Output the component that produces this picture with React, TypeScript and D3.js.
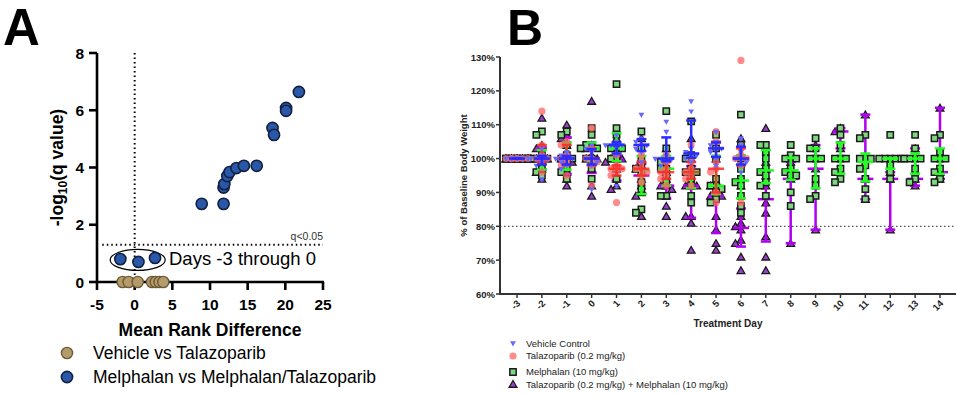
import React from "react";
import * as d3 from "d3";

const W = 957;
const H = 396;
const font = "'Liberation Sans', Arial, sans-serif";

// ---------- panel A data ----------
const vehTalaDiff = [-1.6, -0.8, 0.4, 2.3, 2.8, 3.3, 3.8];
const melDiff = [-1.9, 0.5, 2.7, 8.9, 11.8, 11.8, 11.9, 12.3, 12.6, 13.5, 14.5, 16.2, 18.3, 18.5, 20.1, 20.1, 21.8];
const melNegLogQ = [0.8, 0.7, 0.84, 2.73, 2.73, 3.3, 3.42, 3.7, 3.84, 3.98, 4.06, 4.06, 5.38, 5.14, 6.08, 5.98, 6.64];
const aTicksX = [-5, 0, 5, 10, 15, 20, 25];
const aTicksY = [0, 2, 4, 6, 8];

// ---------- panel B data (% of baseline weight, one list per day) ----------
const days = [-3, -2, -1, 0, 1, 2, 3, 4, 5, 6, 7, 8, 9, 10, 11, 12, 13, 14];
const bTicksY = [60, 70, 80, 90, 100, 110, 120, 130];

const vehicleWeights = [
  [100, 100, 100, 100, 100, 100, 100, 100],
  [103, 101, 100, 100, 100, 99, 98, 94],
  [102, 101, 100, 100, 100, 99, 98, 97],
  [104, 103, 102, 100, 100, 99, 98, 91],
  [107, 105, 104, 104, 104, 103, 101, 92],
  [113, 106, 105, 104, 104, 103, 102, 99],
  [111, 108, 101, 100, 100, 100, 99, 98],
  [117, 114, 103, 102, 101, 101, 100, 99],
  [108, 105, 104, 103, 103, 102, 100, 98],
  [106, 104, 102, 100, 100, 99, 98, 96],
];
const talaWeights = [
  [100, 100, 100, 100, 100, 100, 100],
  [114, 104, 101, 100, 100, 99, 96],
  [105, 104, 101, 100, 99, 98, 95],
  [109, 103, 100, 100, 99, 98, 92],
  [101, 98, 97, 97, 96, 95, 87],
  [101, 99, 97, 97, 96, 95, 93],
  [101, 99, 97, 96, 95, 94, 92],
  [104, 99, 97, 96, 95, 94, 92],
  [108, 105, 99, 97, 96, 90, 87],
  [129, 103, 101, 100, 100, 98, 87],
];
const melWeights = [
  [100, 100, 100, 100, 100, 100, 100, 100, 100, 100],
  [108, 107, 101, 100, 100, 100, 99, 97, 96, 95],
  [108, 107, 104, 101, 100, 100, 99, 97, 96, 94],
  [109, 107, 104, 104, 103, 103, 100, 100, 97, 94],
  [122, 109, 107, 104, 103, 103, 100, 100, 97, 94],
  [108, 103, 100, 98, 97, 96, 93, 91, 85, 84],
  [114, 103, 100, 99, 97, 97, 95, 93, 89, 89],
  [111, 101, 100, 97, 96, 96, 94, 92, 89, 87],
  [107, 103, 100, 94, 92, 92, 91, 90, 88, 87],
  [113, 104, 100, 97, 94, 93, 92, 89, 86, 84],
  [104, 104, 102, 100, 97, 96, 95, 93, 92, 89],
  [104, 101, 100, 100, 97, 96, 95, 95, 90, 86],
  [106, 103, 103, 100, 100, 100, 94, 92, 89, 88],
  [109, 107, 104, 100, 100, 100, 97, 96, 94, 93],
  [107, 106, 100, 100, 100, 98, 97, 94, 91, 88],
  [107, 100, 100, 100, 100, 100, 98, 96, 94],
  [107, 103, 100, 100, 100, 100, 97, 94, 93],
  [107, 106, 102, 100, 100, 100, 97, 96, 94, 93],
];
const comboWeights = [
  [100, 100, 100, 100, 100, 100, 100, 100, 100, 100],
  [112, 104, 103, 100, 100, 100, 100, 97, 96, 94],
  [110, 107, 106, 104, 100, 100, 99, 96, 94, 92],
  [117, 104, 103, 101, 100, 100, 99, 97, 92, 89],
  [106, 103, 100, 100, 100, 99, 97, 94, 92, 91],
  [106, 100, 98, 97, 96, 94, 92, 90, 89, 83],
  [103, 100, 96, 94, 92, 92, 91, 89, 86, 83],
  [106, 100, 97, 93, 92, 92, 83, 83, 81, 73],
  [100, 93, 92, 90, 89, 89, 83, 79, 75, 73],
  [106, 92, 83, 81, 80, 79, 76, 75, 71, 67],
  [109, 99, 95, 92, 89, 87, 84, 77, 71, 67],
  [99, 94, 75],
  [104, 97, 79],
  [109, 108, 103],
  [113, 94, 88],
  [96, 94, 79],
  [103, 94, 92],
  [115, 96, 94],
];

// ---------- scales ----------
const ax = d3.scaleLinear().domain([-5, 25]).range([97, 323]);
const ay = d3.scaleLinear().domain([0, 8]).range([282, 53]);
const bx = d3.scalePoint<number>().domain(days).range([517, 940]);
const by = d3.scaleLinear().domain([60, 130]).range([294, 57]);

// prism style percentile, position (n+1)p
function pq(vals: number[], p: number) {
  const s = [...vals].sort((a, b) => a - b);
  const n = s.length;
  const pos = (n + 1) * p;
  if (pos <= 1) return s[0];
  if (pos >= n) return s[n - 1];
  const lo = Math.floor(pos);
  return s[lo - 1] + (pos - lo) * (s[lo] - s[lo - 1]);
}

// spread overlapping points sideways
function swarm(vals: number[], cx: number, gap: number) {
  const sorted = [...vals].sort((a, b) => b - a);
  const placed: { x: number; y: number }[] = [];
  const offs = [0, -gap, gap, -2 * gap, 2 * gap];
  sorted.forEach((v) => {
    const py = by(v);
    let best = 0;
    let bestC = Infinity;
    for (const o of offs) {
      const c = placed.filter((p) => Math.abs(p.y - py) < gap && Math.abs(p.x - (cx + o)) < gap).length;
      if (c < bestC) {
        bestC = c;
        best = o;
        if (c === 0) break;
      }
    }
    placed.push({ x: cx + best, y: py });
  });
  return placed;
}

const triUp = d3.symbol().type(d3.symbolTriangle).size(26)() as string;
const triDown = d3.symbol().type(d3.symbolTriangle).size(15)() as string;
const sq = d3.symbol().type(d3.symbolSquare).size(40)() as string;

type Group = {
  name: string;
  data: number[][];
  bar: string;
  mark: (x: number, y: number, k: string) => React.ReactElement;
};

const groups: Group[] = [
  {
    name: "Talazoparib (0.2 mg/kg) + Melphalan (10 mg/kg)",
    data: comboWeights,
    bar: "#b000f0",
    mark: (x, y, k) => (
      <path key={k} d={triUp} transform={`translate(${x},${y + 1})`} fill="#9b3fd0" stroke="#1a1a1a" strokeWidth={1.3} />
    ),
  },
  {
    name: "Melphalan (10 mg/kg)",
    data: melWeights,
    bar: "#1cff1c",
    mark: (x, y, k) => (
      <path key={k} d={sq} transform={`translate(${x},${y})`} fill="#7fd87f" stroke="#1a1a1a" strokeWidth={1.5} />
    ),
  },
  {
    name: "Talazoparib (0.2 mg/kg)",
    data: talaWeights,
    bar: "#ff2a2a",
    mark: (x, y, k) => <circle key={k} cx={x} cy={y} r={3.6} fill="#ff6464" opacity={0.75} />,
  },
  {
    name: "Vehicle Control",
    data: vehicleWeights,
    bar: "#2b2bff",
    mark: (x, y, k) => (
      <path key={k} d={triDown} transform={`translate(${x},${y}) rotate(180)`} fill="#6868ff" />
    ),
  },
];

function PanelA() {
  const gx = ax(0);
  const gy = ay(-Math.log10(0.05));
  return (
    <g fontFamily={font}>
      <text x={3} y={45} fontSize={51} fontWeight="bold">A</text>
      {/* reference lines */}
      <line x1={gx} x2={gx} y1={ay(8)} y2={ay(0)} stroke="#000" strokeWidth={2} strokeDasharray="1.5,3" />
      <line x1={ax(-4.3)} x2={ax(25)} y1={gy} y2={gy} stroke="#000" strokeWidth={2} strokeDasharray="1.5,3" />
      <text x={ax(25)} y={gy - 5} fontSize={10.5} textAnchor="end" fill="#333">q&lt;0.05</text>
      {/* axes */}
      <line x1={ax(-5)} x2={ax(-5)} y1={ay(8)} y2={ay(0) + 1} stroke="#000" strokeWidth={2.6} />
      <line x1={ax(-5) - 1} x2={ax(25) + 1} y1={ay(0)} y2={ay(0)} stroke="#000" strokeWidth={2.6} />
      {aTicksY.map((t) => (
        <g key={t}>
          <line x1={ax(-5) - 8} x2={ax(-5)} y1={ay(t)} y2={ay(t)} stroke="#000" strokeWidth={2.6} />
          <text x={ax(-5) - 13} y={ay(t) + 5.5} fontSize={15.5} fontWeight="bold" textAnchor="end">{t}</text>
        </g>
      ))}
      {aTicksX.map((t) => (
        <g key={t}>
          <line x1={ax(t)} x2={ax(t)} y1={ay(0)} y2={ay(0) + 8} stroke="#000" strokeWidth={2.6} />
          <text x={ax(t)} y={310} fontSize={15.5} fontWeight="bold" textAnchor="middle">{t}</text>
        </g>
      ))}
      <text x={(ax(-5) + ax(25)) / 2} y={336} fontSize={17.5} fontWeight="bold" textAnchor="middle">Mean Rank Difference</text>
      <text transform={`translate(63,${(ay(0) + ay(8)) / 2}) rotate(-90)`} fontSize={17.5} fontWeight="bold" textAnchor="middle">
        -log<tspan fontSize={12} dy={4}>10</tspan><tspan dy={-4}>(q value)</tspan>
      </text>
      {/* annotation */}
      <ellipse cx={ax(0.4)} cy={ay(0.77)} rx={27.5} ry={10.5} fill="none" stroke="#000" strokeWidth={1.2} />
      <text x={169} y={265} fontSize={18.5}>Days -3 through 0</text>
      {/* points */}
      {vehTalaDiff.map((d, i) => (
        <circle key={"t" + i} cx={ax(d)} cy={ay(0)} r={5.6} fill="#b39b6b" stroke="#6d5a36" strokeWidth={1.4} />
      ))}
      {melDiff.map((d, i) => (
        <circle key={"m" + i} cx={ax(d)} cy={ay(melNegLogQ[i])} r={5.6} fill="#2a58a8" stroke="#132041" strokeWidth={1.6} />
      ))}
      {/* legend */}
      <circle cx={67} cy={353} r={5.6} fill="#b39b6b" stroke="#6d5a36" strokeWidth={1.4} />
      <text x={93} y={358.5} fontSize={17.5}>Vehicle vs Talazoparib</text>
      <circle cx={67} cy={377} r={5.6} fill="#2a58a8" stroke="#132041" strokeWidth={1.6} />
      <text x={93} y={382.5} fontSize={17.5}>Melphalan vs Melphalan/Talazoparib</text>
    </g>
  );
}

function PanelB() {
  const x0 = 500;
  const x1 = 956;
  return (
    <g fontFamily={font}>
      <text x={507} y={45} fontSize={50} fontWeight="bold">B</text>
      <line x1={x0} x2={x1} y1={by(80)} y2={by(80)} stroke="#555" strokeWidth={1.2} strokeDasharray="1.5,2.5" />
      {/* axes */}
      <line x1={x0} x2={x0} y1={by(130)} y2={by(60) + 1} stroke="#333" strokeWidth={2} />
      <line x1={x0 - 1} x2={x1} y1={by(60)} y2={by(60)} stroke="#333" strokeWidth={2} />
      {bTicksY.map((t) => (
        <g key={t}>
          <line x1={x0 - 4} x2={x0} y1={by(t)} y2={by(t)} stroke="#333" strokeWidth={1.5} />
          <text x={x0 - 5} y={by(t) + 3.5} fontSize={9.5} fontWeight="bold" textAnchor="end" fill="#222">{t}%</text>
        </g>
      ))}
      {days.map((d) => (
        <g key={d}>
          <line x1={bx(d)} x2={bx(d)} y1={by(60)} y2={by(60) + 4} stroke="#333" strokeWidth={1.5} />
          <text transform={`translate(${(bx(d) as number) + 4},${by(60) + 10}) rotate(-45)`} fontSize={9.5} fontWeight="bold" textAnchor="end" fill="#222">{d}</text>
        </g>
      ))}
      <text x={728} y={327} fontSize={10} fontWeight="bold" textAnchor="middle" fill="#222">Treatment Day</text>
      <text transform={`translate(467,${(by(60) + by(130)) / 2}) rotate(-90)`} fontSize={9.5} fontWeight="bold" textAnchor="middle" fill="#222">% of Baseline Body Weight</text>
      {/* data */}
      {groups.map((g, gi) => (
        <g key={gi}>
          {g.data.map((vals, di) => {
            const cx = bx(days[di]) as number;
            const pts = swarm(vals, cx, 5.5);
            const med = d3.median(vals) as number;
            const lo = pq(vals, 0.25);
            const hi = pq(vals, 0.75);
            return (
              <g key={di}>
                {pts.map((p, pi) => g.mark(p.x, p.y, `${di}-${pi}`))}
                <g stroke={g.bar} strokeWidth={2.5} opacity={gi === 2 ? 0.85 : 1}>
                  <line x1={cx} x2={cx} y1={by(lo)} y2={by(hi)} />
                  <line x1={cx - 5} x2={cx + 5} y1={by(lo)} y2={by(lo)} />
                  <line x1={cx - 5} x2={cx + 5} y1={by(hi)} y2={by(hi)} />
                  <line x1={cx - 8} x2={cx + 8} y1={by(med)} y2={by(med)} />
                </g>
              </g>
            );
          })}
        </g>
      ))}
      {/* legend */}
      {[...groups].reverse().map((g, i) => {
        const ly = [343, 356, 372, 384][i];
        const yText = [347, 359, 375, 388][i];
        return (
          <g key={g.name}>
            {g.mark(513, ly, "lg" + i)}
            <text x={526} y={yText} fontSize={9.5} fill="#222">{g.name}</text>
          </g>
        );
      })}
    </g>
  );
}

export default function App() {
  return (
    <svg width={W} height={H} style={{ position: "absolute", left: 0, top: 0, background: "#fff" }}>
      <rect width={W} height={H} fill="#fff" />
      <PanelA />
      <PanelB />
    </svg>
  );
}
